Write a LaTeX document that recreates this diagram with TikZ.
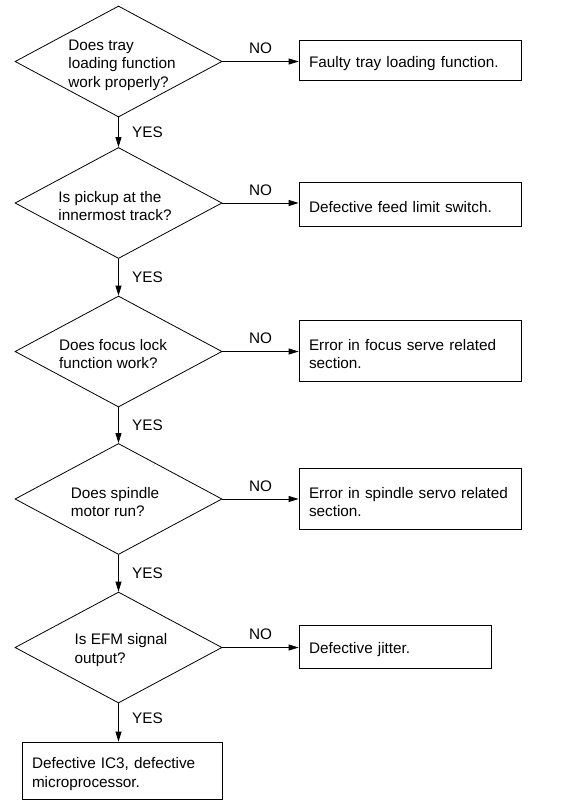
\documentclass[tikz,border=0pt]{standalone}
\usepackage{fontspec}
\setmainfont{Liberation Sans}
\usetikzlibrary{shapes.geometric,arrows.meta}
\tikzset{
    query/.style={diamond,draw,inner sep=0pt,minimum width=207pt,minimum height=111pt},
    qtext/.style={align=left,inner sep=0pt},
    result/.style={draw,rectangle,align=left,inner xsep=10pt,inner ysep=0pt,text height=18pt},
    flow/.style={-{Triangle[length=10pt,width=6pt]}},
}
\begin{document}
                \begin{tikzpicture}[x=1pt,y=-1pt,line width=.8pt,font=\fontsize{15.3pt}{18.5pt}\selectfont]
                    \useasboundingbox (0,0) rectangle (564,800);
                    \node[query] (d1) at (118.5,61.5) {};
                    \node[qtext] (q1) at (122,65) {Does tray\\loading function\\work properly?};
                    \node[query] (d2) at (118.5,203) {};
                    \node[qtext] (q2) at (115,206) {Is pickup at the\\innermost track?};
                    \node[query] (d3) at (118.5,351.5) {};
                    \node[qtext] (q3) at (113,354) {Does focus lock\\function work?};
                    \node[query] (d4) at (118.5,499) {};
                    \node[qtext] (q4) at (115,502) {Does spindle\\motor run?};
                    \node[query] (d5) at (118.5,647.5) {};
                    \node[qtext] (q5) at (121,650) {Is EFM signal\\output?};
                    \node[result,text width=202pt,minimum height=40pt] (b1) at (410,60) {Faulty tray loading function.};
                    \node[result,text width=202pt,minimum height=44pt] (b2) at (410,204) {Defective feed limit switch.};
                    \node[result,text width=202pt,minimum height=61pt] (b3) at (410,350.5) {Error in focus serve related\\section.};
                    \node[result,text width=202pt,minimum height=61pt] (b4) at (410,498.5) {Error in spindle servo related\\section.};
                    \node[result,text width=172pt,minimum height=43pt] (b5) at (395,646.5) {Defective jitter.};
                    \node[result,text width=180pt,minimum height=57pt] (b6) at (122,770.5) {Defective IC3, defective\\microprocessor.};
                    \draw[flow] (d1.east) -- (d1.east -| b1.west) node[midway,above=4pt] {NO};
                    \draw[flow] (d2.east) -- (d2.east -| b2.west) node[midway,above=4pt] {NO};
                    \draw[flow] (d3.east) -- (d3.east -| b3.west) node[midway,above=4pt] {NO};
                    \draw[flow] (d4.east) -- (d4.east -| b4.west) node[midway,above=4pt] {NO};
                    \draw[flow] (d5.east) -- (d5.east -| b5.west) node[midway,above=4pt] {NO};
                    \draw[flow] (d1.south) -- (d2.north) node[midway,right=10pt] {YES};
                    \draw[flow] (d2.south) -- (d3.north) node[midway,right=10pt] {YES};
                    \draw[flow] (d3.south) -- (d4.north) node[midway,right=10pt] {YES};
                    \draw[flow] (d4.south) -- (d5.north) node[midway,right=10pt] {YES};
                    \draw[flow] (d5.south) -- (d5.south |- b6.north) node[midway,right=10pt,yshift=4pt] {YES};
                \end{tikzpicture}
\end{document}
